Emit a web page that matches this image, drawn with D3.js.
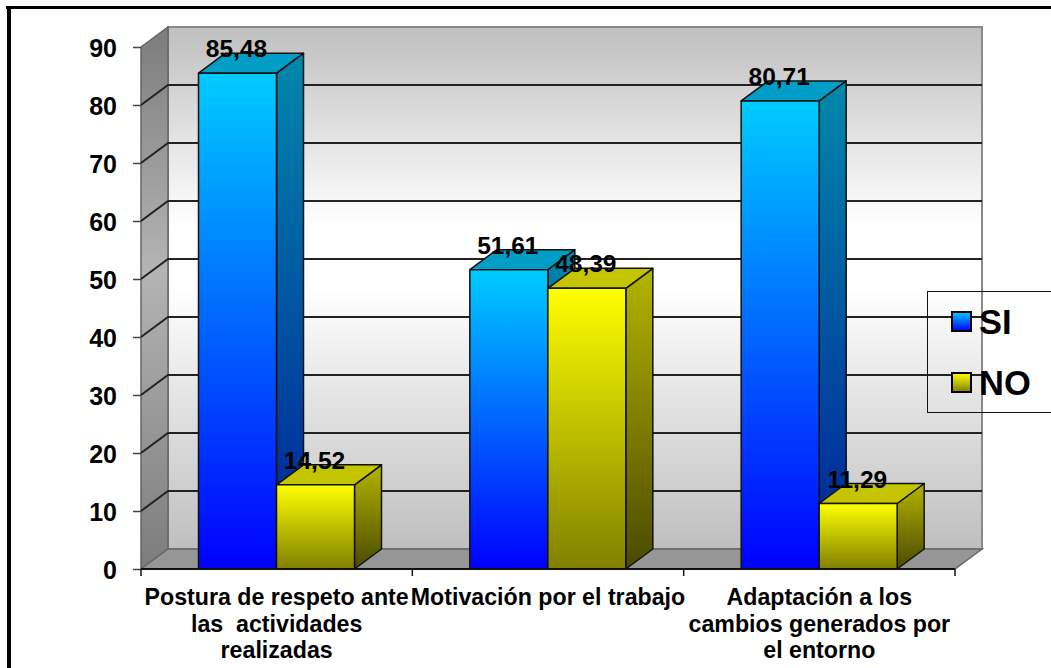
<!DOCTYPE html>
<html>
<head>
<meta charset="utf-8">
<script src="https://cdn.jsdelivr.net/npm/d3@7"></script>
<style>
  html, body { margin: 0; padding: 0; background: #fff; }
  svg { display: block; font-family: "Liberation Sans", Arial, sans-serif; font-weight: bold; }
  .cat-label { white-space: pre; }
</style>
</head>
<body>
<div id="chart"></div>
<script>
var categories = ["cat1", "cat2", "cat3"];
var categoryLines = [
  ["Postura de respeto ante", "las  actividades", "realizadas"],
  ["Motivación por el trabajo"],
  ["Adaptación a los", "cambios generados por", "el entorno"]
];
var seriesNames = ["SI", "NO"];
var siValues = [85.48, 51.61, 80.71];
var noValues = [14.52, 48.39, 11.29];
var yTicks = [0, 10, 20, 30, 40, 50, 60, 70, 80, 90];

var width = 1051, height = 668,
  depthX = 27, depthY = -20;

var x = d3.scaleBand().domain(categories).range([141, 955]);
var inner = d3.scaleBand().domain(seriesNames).range([57.5, 212.5 + 1]);
var y = d3.scaleLinear().domain([0, 90]).range([569, 47]);

var colors = {
  SI: { front: ["#00ccff", "#0000ff"], side: ["#0088aa", "#001f99"], top: "#009ec6" },
  NO: { front: ["#ffff00", "#808000"], side: ["#b4b400", "#4a4a00"], top: "#c4c400" }
};

var svg = d3.select("#chart").append("svg")
  .attr("width", width)
  .attr("height", height);

var defs = svg.append("defs");

function gradient(id, stops) {
  var g = defs.append("linearGradient")
    .attr("id", id)
    .attr("x1", 0).attr("y1", 0)
    .attr("x2", 0).attr("y2", 1);
  stops.forEach(function (s) {
    g.append("stop").attr("offset", s[0]).attr("stop-color", s[1]);
  });
}

gradient("wall", [[0, "#bfbfbf"], [0.38, "#ffffff"], [0.5, "#ffffff"], [1, "#bfbfbf"]]);
gradient("sideWall", [[0, "#7c7c7c"], [0.45, "#b4b4b4"], [1, "#7c7c7c"]]);
seriesNames.forEach(function (s) {
  gradient("front" + s, [[0, colors[s].front[0]], [1, colors[s].front[1]]]);
  gradient("side" + s, [[0, colors[s].side[0]], [1, colors[s].side[1]]]);
});

function poly(points) {
  return points.map(function (p) { return p.join(","); }).join(" ");
}

// Outer frame: only top and left edges are visible
svg.append("rect").attr("x", 6).attr("y", 6).attr("width", width - 6).attr("height", 3).attr("fill", "#000");
svg.append("rect").attr("x", 7).attr("y", 6).attr("width", 4).attr("height", height - 6).attr("fill", "#000");

var left = x.range()[0], right = x.range()[1], y0 = y(0), yMax = y(90);

// Back wall
svg.append("rect")
  .attr("x", left + depthX)
  .attr("y", yMax + depthY)
  .attr("width", right - left)
  .attr("height", y0 - yMax)
  .attr("fill", "url(#wall)")
  .attr("stroke", "#8a8a8a")
  .attr("stroke-width", 2);

// Side wall
svg.append("polygon")
  .attr("points", poly([[left, yMax], [left + depthX, yMax + depthY], [left + depthX, y0 + depthY], [left, y0]]))
  .attr("fill", "url(#sideWall)")
  .attr("stroke", "#666")
  .attr("stroke-width", 1.5);

// Floor
svg.append("polygon")
  .attr("points", poly([[left, y0], [left + depthX, y0 + depthY], [right + depthX, y0 + depthY], [right, y0]]))
  .attr("fill", "#969696")
  .attr("stroke", "#666")
  .attr("stroke-width", 1.5);

// Gridlines on both walls
var grid = svg.append("g").attr("fill", "none").attr("stroke", "#222").attr("stroke-width", 2);
grid.selectAll("polyline")
  .data(yTicks.filter(function (d) { return d > 0 && d < 90; }))
  .join("polyline")
  .attr("points", function (d) {
    return poly([[left, y(d)], [left + depthX, y(d) + depthY], [right + depthX, y(d) + depthY]]);
  });

// Bars
var rows = categories.map(function (c, i) {
  return [
    { cat: c, series: "SI", value: siValues[i] },
    { cat: c, series: "NO", value: noValues[i] }
  ];
});
var flat = d3.merge(rows);

var bar = svg.selectAll(".bar")
  .data(flat)
  .join("g")
  .attr("class", "bar")
  .attr("stroke", "#111")
  .attr("stroke-width", 1.5)
  .attr("stroke-linejoin", "round");

function barX(d) { return x(d.cat) + inner(d.series); }

bar.append("polygon")
  .attr("points", function (d) {
    var a = barX(d), b = a + inner.bandwidth(), t = y(d.value);
    return poly([[b, t], [b + depthX, t + depthY], [b + depthX, y0 + depthY], [b, y0]]);
  })
  .attr("fill", function (d) { return "url(#side" + d.series + ")"; });

bar.append("polygon")
  .attr("points", function (d) {
    var a = barX(d), b = a + inner.bandwidth(), t = y(d.value);
    return poly([[a, t], [a + depthX, t + depthY], [b + depthX, t + depthY], [b, t]]);
  })
  .attr("fill", function (d) { return colors[d.series].top; });

bar.append("rect")
  .attr("x", barX)
  .attr("y", function (d) { return y(d.value); })
  .attr("width", inner.bandwidth())
  .attr("height", function (d) { return y0 - y(d.value); })
  .attr("fill", function (d) { return "url(#front" + d.series + ")"; });

// Axes
var yAxis = d3.axisLeft(y).tickValues(yTicks).tickSize(8).tickPadding(16);
var gy = svg.append("g").attr("transform", "translate(" + left + ",0)").call(yAxis);
gy.select(".domain").remove();
gy.selectAll(".tick line").attr("stroke", "#444").attr("stroke-width", 1.5);
gy.selectAll("text")
  .attr("fill", "#000")
  .attr("dy", "0.39em")
  .style("font-size", "25px")
  .style("font-family", "'Liberation Sans', Arial, sans-serif")
  .style("font-weight", "bold");

svg.append("line")
  .attr("x1", left).attr("x2", right)
  .attr("y1", y0).attr("y2", y0)
  .attr("stroke", "#111").attr("stroke-width", 2);

svg.selectAll(".x-tick")
  .data(d3.range(0, categories.length + 1))
  .join("line")
  .attr("class", "x-tick")
  .attr("x1", function (i) { return left + i * x.step(); })
  .attr("x2", function (i) { return left + i * x.step(); })
  .attr("y1", y0).attr("y2", y0 + 7)
  .attr("stroke", "#111").attr("stroke-width", 1.5);

// Category labels
var catLabel = svg.selectAll(".cat-label")
  .data(categories)
  .join("text")
  .attr("class", "cat-label")
  .attr("text-anchor", "middle")
  .style("font-size", "23.2px");

catLabel.selectAll("tspan")
  .data(function (d, i) {
    return categoryLines[i].map(function (t, j) {
      return { text: t, line: j, cx: x(d) + x.bandwidth() / 2 };
    });
  })
  .join("tspan")
  .attr("x", function (d) { return d.cx; })
  .attr("y", function (d) { return 605 + d.line * 26.7; })
  .text(function (d) { return d.text; });

// Value labels go on top of all bars
svg.selectAll(".value")
  .data(flat)
  .join("text")
  .attr("class", "value")
  .attr("text-anchor", "middle")
  .attr("x", function (d) { return barX(d) + inner.bandwidth() / 2 - 1; })
  .attr("y", function (d) { return y(d.value) - 16; })
  .style("font-size", "24.5px")
  .text(function (d) { return d3.format(".2f")(d.value).replace(".", ","); });

// Legend
svg.append("rect")
  .attr("x", 927.5).attr("y", 291.5)
  .attr("width", width).attr("height", 121)
  .attr("fill", "none").attr("stroke", "#111");

var legendY = d3.scalePoint().domain(seriesNames).range([321.5, 382.5]);
var legend = svg.selectAll(".legend")
  .data(seriesNames)
  .join("g")
  .attr("class", "legend")
  .attr("transform", function (d) { return "translate(952," + legendY(d) + ")"; });

legend.append("rect")
  .attr("x", 0).attr("y", -9.5)
  .attr("width", 19).attr("height", 19)
  .attr("fill", function (d) { return "url(#front" + d + ")"; })
  .attr("stroke", "#000").attr("stroke-width", 2);

legend.append("text")
  .attr("x", 27).attr("y", 12)
  .style("font-size", "34.5px")
  .text(function (d) { return d; });
</script>
</body>
</html>
